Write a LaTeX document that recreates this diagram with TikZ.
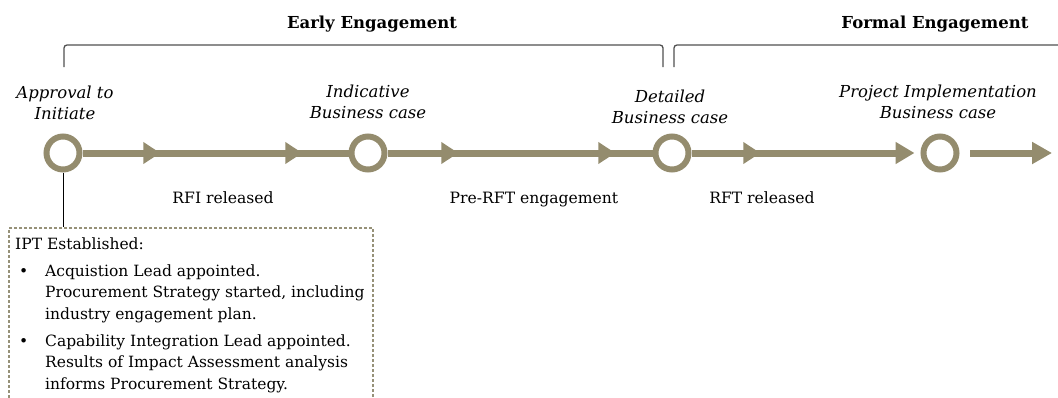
\documentclass[tikz,border=0pt]{standalone}
\usepackage{fontspec}
\setmainfont{DejaVu Serif}
\usetikzlibrary{arrows.meta,decorations.markings}
\definecolor{olivec}{RGB}{148,140,110}
\definecolor{brk}{RGB}{80,80,80}
\definecolor{dashc}{RGB}{150,145,120}
\newcommand{\twol}[2]{\begin{tabular}[t]{@{}c@{}}#1\\#2\end{tabular}}
\begin{document}
\begin{tikzpicture}[x=1pt,y=-1pt,
  ms/.style={circle,draw=olivec,line width=6pt,minimum size=33pt,inner sep=0pt,fill=white},
  seg/.style={draw,color=olivec,line width=7pt},
  lbl/.style={anchor=base,inner sep=0pt,font=\fontsize{15.6}{21}\selectfont},
  mlbl/.style={anchor=base,inner sep=0pt,font=\fontsize{16.5}{21}\selectfont\itshape},
  ttl/.style={anchor=base,inner sep=0pt,font=\fontsize{16.5}{20}\selectfont\bfseries},
  brack/.style={draw=brk,line width=1.3pt,rounded corners=3pt},
  boxst/.style={draw=dashc,line width=2pt,dash pattern=on 3pt off 2pt,minimum width=364pt,minimum height=200pt,anchor=north west,inner sep=0pt}
]
\useasboundingbox (0,0) rectangle (1058,397);
% milestones
\node[ms] (c1) at (63,153) {};
\node[ms] (c2) at (368,153) {};
\node[ms] (c3) at (672,153) {};
\node[ms] (c4) at (940,153) {};
% connectors
\path[seg,decoration={markings,
   mark=at position 77.75pt with {\arrow{Triangle[length=17pt,width=21pt]}},
   mark=at position 219.75pt with {\arrow{Triangle[length=17pt,width=21pt]}}},
   postaction={decorate}] (c1) -- (c2);
\path[seg,decoration={markings,
   mark=at position 70.75pt with {\arrow{Triangle[length=17pt,width=21pt]}},
   mark=at position 227.75pt with {\arrow{Triangle[length=17pt,width=21pt]}}},
   postaction={decorate}] (c2) -- (c3);
\path[seg,-{Triangle[length=19pt,width=21pt]},shorten >=6pt,decoration={markings,
   mark=at position 68.75pt with {\arrow{Triangle[length=17pt,width=21pt]}}},
   postaction={decorate}] (c3) -- (c4);
\coordinate (e1) at (970,153);
\coordinate (e2) at (1052,153);
\path[seg,-{Triangle[length=20pt,width=21pt]}] (e1) -- (e2);
% milestone labels
\node[mlbl] (l1) at (65,98) {\twol{Approval to}{Initiate}};
\node[mlbl] (l2) at (368,97) {\twol{Indicative}{Business case}};
\node[mlbl] (l3) at (670,102) {\twol{Detailed}{Business case}};
\node[mlbl] (l4) at (938,97) {\twol{Project Implementation}{Business case}};
% phase labels
\node[lbl] (p1) at (223,203) {RFI released};
\node[lbl] (p2) at (534,203) {Pre-RFT engagement};
\node[lbl] (p3) at (762,203) {RFT released};
% brackets
\coordinate (ea) at (64,67);
\coordinate (eb) at (663,67);
\coordinate (fa) at (674,67);
\coordinate (fb) at (1062,45);
\draw[brack] (ea) -- ++(0,-22) -| (eb);
\draw[brack] (fa) |- (fb);
\node[ttl] (t1) at (372,28) {Early Engagement};
\node[ttl] (t2) at (935,28) {Formal Engagement};
% box
\node[boxst] (box) at (8,227) {};
\draw[black,line width=1pt] (c1.south) -- (box.north -| c1.south);
\node[anchor=base west,inner sep=0pt] (bt) at (15,249) {\parbox[t]{360pt}{\fontsize{15.5}{21.5}\selectfont\raggedright
IPT Established:\par\vspace{5.5pt}
{\leftskip=30pt\noindent\llap{\makebox[30pt][l]{\hspace{4pt}•}}Acquistion Lead appointed.\\
Procurement Strategy started, including\\
industry engagement plan.\par}\vspace{5.5pt}
{\leftskip=30pt\noindent\llap{\makebox[30pt][l]{\hspace{4pt}•}}Capability Integration Lead appointed.\\
Results of Impact Assessment analysis\\
informs Procurement Strategy.\par}}};
\end{tikzpicture}
\end{document}
